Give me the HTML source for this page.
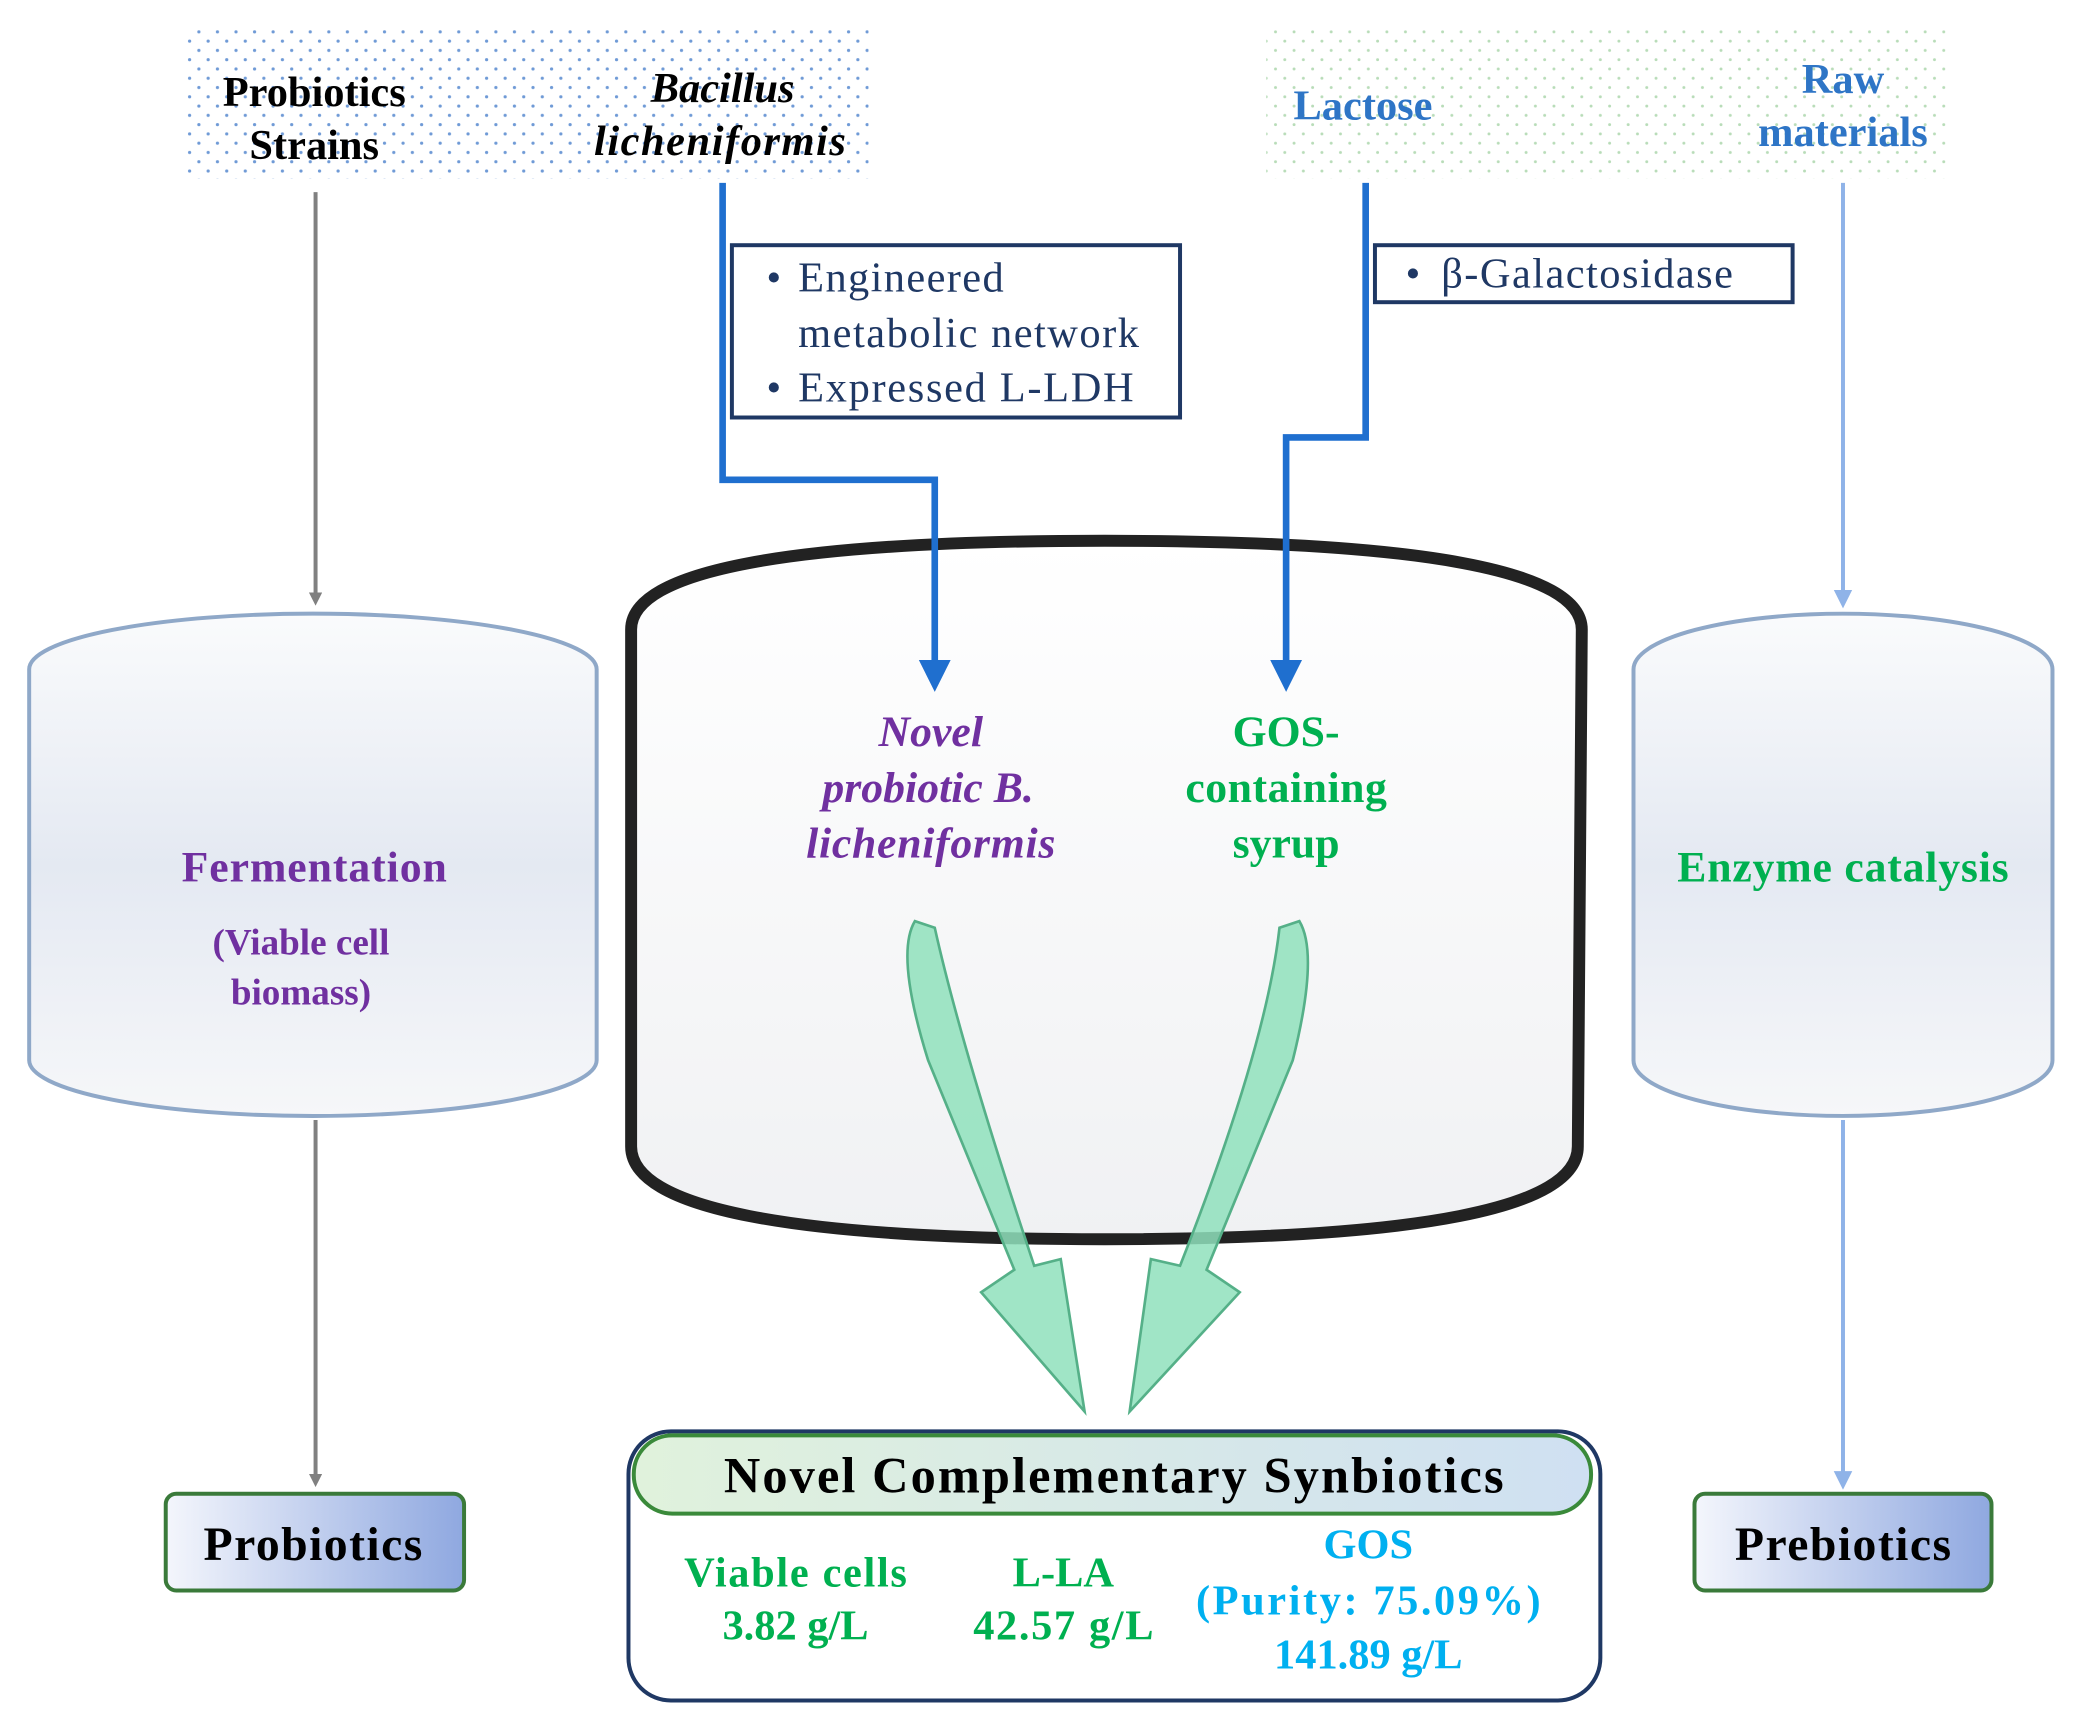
<!DOCTYPE html>
<html><head><meta charset="utf-8"><style>html,body{margin:0;padding:0;background:#fff}svg{display:block}</style></head>
<body>
<svg width="2079" height="1723" viewBox="0 0 1568 1300" preserveAspectRatio="none" xmlns="http://www.w3.org/2000/svg" font-family="Liberation Serif, serif">
<defs>
<pattern id="dotb" width="14" height="14" patternUnits="userSpaceOnUse"><circle cx="3" cy="3" r="1.2" fill="#6f9ad6"/><circle cx="10" cy="10" r="1.2" fill="#6f9ad6"/></pattern>
<pattern id="dotg" width="14" height="14" patternUnits="userSpaceOnUse"><circle cx="3" cy="3" r="1.1" fill="#b8dcb8"/><circle cx="10" cy="10" r="1.1" fill="#b8dcb8"/></pattern>
<linearGradient id="cyl" x1="0" y1="0" x2="0" y2="1"><stop offset="0" stop-color="#fafbfc"/><stop offset="0.5" stop-color="#e4e9f2"/><stop offset="1" stop-color="#f6f7f9"/></linearGradient>
<linearGradient id="cyl2" x1="0" y1="0" x2="0" y2="1"><stop offset="0" stop-color="#ffffff"/><stop offset="1" stop-color="#f0f1f3"/></linearGradient>
<linearGradient id="btn" x1="0" y1="0" x2="1" y2="0"><stop offset="0" stop-color="#f4f6fc"/><stop offset="1" stop-color="#8fa8e0"/></linearGradient>
<linearGradient id="pill" x1="0" y1="0" x2="1" y2="0"><stop offset="0" stop-color="#e0f2dc"/><stop offset="1" stop-color="#cfe0f2"/></linearGradient>
<marker id="ag" markerWidth="10" markerHeight="10" refX="5" refY="5" orient="auto" markerUnits="userSpaceOnUse" viewBox="0 0 10 10"><path d="M0,0 L10,5 L0,10z" fill="#808080"/></marker>
<marker id="al" markerWidth="14" markerHeight="14" refX="7" refY="7" orient="auto" markerUnits="userSpaceOnUse" viewBox="0 0 14 14"><path d="M0,0 L14,7 L0,14z" fill="#8fb3e8"/></marker>
</defs>
<rect x="140" y="20" width="515" height="115" fill="url(#dotb)"/>
<rect x="955" y="20" width="515" height="115" fill="url(#dotg)"/>
<g font-weight="bold" font-size="32" text-anchor="middle">
<text x="237" y="80">Probiotics</text><text x="237" y="120">Strains</text>
<text x="545" y="77" font-style="italic">Bacillus</text><text x="543" y="117" font-style="italic" textLength="190">licheniformis</text>
<text x="1028" y="90" fill="#2e75c6">Lactose</text>
<text x="1390" y="70" fill="#2e75c6">Raw</text><text x="1390" y="110" fill="#2e75c6">materials</text>
</g>
<line x1="238" y1="145" x2="238" y2="452" stroke="#808080" stroke-width="3" marker-end="url(#ag)"/>
<line x1="238" y1="845" x2="238" y2="1117" stroke="#808080" stroke-width="3" marker-end="url(#ag)"/>
<line x1="1390" y1="138" x2="1390" y2="452" stroke="#8fb3e8" stroke-width="3" marker-end="url(#al)"/>
<line x1="1390" y1="845" x2="1390" y2="1117" stroke="#8fb3e8" stroke-width="3" marker-end="url(#al)"/>
<path d="M22,505 A214,42 0 0 1 450,505 L450,800 A214,42 0 0 1 22,800Z" fill="url(#cyl)" stroke="#8fa8c8" stroke-width="3"/>
<path d="M1232,505 A158,42 0 0 1 1548,505 L1548,800 A158,42 0 0 1 1232,800Z" fill="url(#cyl)" stroke="#8fa8c8" stroke-width="3"/>
<path d="M476,475 Q476,408 833,408 Q1193,408 1193,475 L1190,865 Q1190,935 833,935 Q476,935 476,865Z" fill="url(#cyl2)" stroke="#222" stroke-width="9"/>
<g font-weight="bold" font-size="33" text-anchor="middle">
<text x="237" y="665" fill="#7030a0" textLength="200">Fermentation</text>
<text x="227" y="720" font-size="28" fill="#7030a0">(Viable cell</text>
<text x="227" y="758" font-size="28" fill="#7030a0">biomass)</text>
<text x="1390" y="665" fill="#00b050" textLength="250">Enzyme catalysis</text>
<g fill="#7030a0" font-style="italic"><text x="702" y="563">Novel</text><text x="700" y="605">probiotic B.</text><text x="702" y="647" textLength="188">licheniformis</text></g>
<g fill="#00b050"><text x="970" y="563">GOS-</text><text x="970" y="605" textLength="152">containing</text><text x="970" y="647">syrup</text></g>
</g>
<polyline points="545,138 545,362 705,362 705,500" fill="none" stroke="#1f6fcf" stroke-width="5"/>
<path d="M693,498 L717,498 L705,522Z" fill="#1f6fcf"/>
<polyline points="1030,138 1030,330 970,330 970,500" fill="none" stroke="#1f6fcf" stroke-width="5"/>
<path d="M958,498 L982,498 L970,522Z" fill="#1f6fcf"/>
<rect x="552" y="185" width="338" height="130" fill="#fff" stroke="#1f3864" stroke-width="3"/>
<g font-size="32" fill="#1f3864"><text x="578" y="220">•</text><text x="602" y="220" textLength="155">Engineered</text><text x="602" y="262" textLength="257">metabolic network</text><text x="578" y="303">•</text><text x="602" y="303" textLength="253">Expressed L-LDH</text></g>
<rect x="1037" y="185" width="315" height="43" fill="#fff" stroke="#1f3864" stroke-width="3"/>
<g font-size="32" fill="#1f3864"><text x="1060" y="217">•</text><text x="1087" y="217" textLength="220">β-Galactosidase</text></g>
<path d="M690,695 Q675,720 700,800 L765,958 L740,975 L818,1065 L800,950 L780,955 Q725,790 705,700Z" fill="#8fe0bc" fill-opacity="0.85" stroke="#55b088" stroke-width="2"/>
<path d="M980,695 Q995,720 975,800 L910,958 L935,975 L852,1065 L868,950 L890,955 Q955,790 965,700Z" fill="#8fe0bc" fill-opacity="0.85" stroke="#55b088" stroke-width="2"/>
<rect x="125" y="1127" width="225" height="73" rx="8" fill="url(#btn)" stroke="#3a7a3a" stroke-width="3"/>
<rect x="1278" y="1127" width="224" height="73" rx="8" fill="url(#btn)" stroke="#3a7a3a" stroke-width="3"/>
<g font-weight="bold" font-size="36" text-anchor="middle"><text x="236" y="1177" textLength="165">Probiotics</text><text x="1390" y="1177" textLength="163">Prebiotics</text></g>
<rect x="474" y="1080" width="733" height="203" rx="32" fill="#fff" stroke="#1f3864" stroke-width="3"/>
<rect x="478" y="1083" width="722" height="59" rx="29" fill="url(#pill)" stroke="#3a8a3a" stroke-width="3"/>
<text x="840" y="1126" font-weight="bold" font-size="38" text-anchor="middle" textLength="588">Novel Complementary  Synbiotics</text>
<g font-weight="bold" font-size="32" text-anchor="middle">
<text x="600" y="1197" fill="#00b050" textLength="168">Viable cells</text><text x="600" y="1237" fill="#00b050">3.82 g/L</text>
<text x="802" y="1197" fill="#00b050">L-LA</text><text x="802" y="1237" fill="#00b050" textLength="136">42.57 g/L</text>
<text x="1032" y="1176" fill="#00b0f0">GOS</text><text x="1032" y="1218" fill="#00b0f0" textLength="260">(Purity:  75.09%)</text><text x="1032" y="1259" fill="#00b0f0">141.89 g/L</text>
</g>
</svg>
</body></html>
